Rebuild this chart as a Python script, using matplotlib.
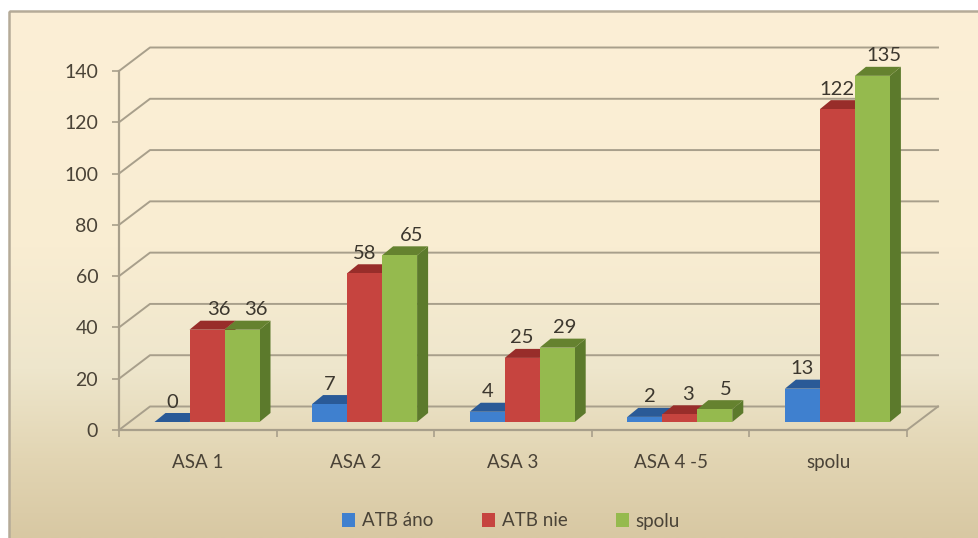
import numpy as np
import matplotlib
matplotlib.use("Agg")
import matplotlib.pyplot as plt
from matplotlib.patches import Polygon, Patch, Rectangle
from matplotlib.colors import LinearSegmentedColormap

categories = ["ASA 1", "ASA 2", "ASA 3", "ASA 4 -5", "spolu"]
atb_ano = [0, 7, 4, 2, 13]
atb_nie = [36, 58, 25, 3, 122]
spolu = [36, 65, 29, 5, 135]
series_names = ["ATB áno", "ATB nie", "spolu"]
y_ticks = [0, 20, 40, 60, 80, 100, 120, 140]

W, H = 979, 538
plt.rcParams["font.family"] = ["Lato", "DejaVu Sans"]
TXT = "#4a4337"
GRID = "#a89f8b"

fig = plt.figure(figsize=(W / 100, H / 100), dpi=100, facecolor="white")

# panel background with vertical gradient
bg = fig.add_axes([0, 0, 1, 1], zorder=0)
bg.set_xlim(0, W); bg.set_ylim(H, 0); bg.axis("off")
cmap = LinearSegmentedColormap.from_list(
    "panel", [(0, "#fcefd6"), (0.45, "#f9edd2"), (0.68, "#eee6cc"), (0.85, "#e2d5b3"), (1, "#d8c8a3")])
bg.imshow(np.linspace(0, 1, 256)[:, None], cmap=cmap, aspect="auto",
          extent=[10, W, H, 11], zorder=1)
bg.add_patch(Rectangle((9, 11), W, H, fill=False, ec="#b5ab98", lw=1.8, zorder=2))
bg.set_xlim(0, W); bg.set_ylim(H, 0)

# plot axes: front plane of the 3-D box
ax = fig.add_axes([119 / W, (H - 430) / H, 788 / W, 359 / H], zorder=1)
ax.patch.set_alpha(0)
ax.set_xlim(0, len(categories)); ax.set_ylim(0, 140)
px_x = len(categories) / 788
px_y = 140 / 359

box_dx, box_dy = 31 * px_x, 23.5 * px_y
for v in y_ticks:
    ax.plot([0, box_dx, len(categories) + box_dx], [v, v + box_dy, v + box_dy],
            color=GRID, lw=1.4, clip_on=False, zorder=1)
ax.plot([len(categories), len(categories) + box_dx], [0, box_dy],
        color=GRID, lw=1.4, clip_on=False, zorder=1)

for s in ("top", "right"):
    ax.spines[s].set_visible(False)
for s in ("left", "bottom"):
    ax.spines[s].set_color(GRID); ax.spines[s].set_linewidth(1.6)
ax.set_yticks(y_ticks)
ax.tick_params(axis="y", length=5, width=1.2, color=GRID, labelsize=14, labelcolor=TXT, pad=10)
ax.set_xticks(np.arange(len(categories)) + 0.5, categories)
ax.set_xticks(np.arange(len(categories) + 1), minor=True)
ax.tick_params(axis="x", which="major", length=0, labelsize=13.5, labelcolor=TXT, pad=17)
ax.tick_params(axis="x", which="minor", length=5, width=1.2, color=GRID)

# bars
series = [atb_ano, atb_nie, spolu]
front = ["#3f80cf", "#c6443f", "#95ba4e"]
top = ["#2a5a97", "#982d2a", "#65822f"]
side = ["#2c5f9f", "#8f2a27", "#5c7a2c"]
bar_w = 35 * px_x
start = 35.5 * px_x
base = 8 * px_y
dx, dy = 11 * px_x, 9 * px_y

for k, cat in enumerate(categories):
    for i, vals in enumerate(series):
        x0 = k + start + i * bar_w
        x1 = x0 + bar_w
        yt = base + vals[k]
        ax.add_patch(Polygon([(x1, base), (x1 + dx, base + dy), (x1 + dx, yt + dy), (x1, yt)],
                             fc=side[i], ec="none", clip_on=False, zorder=3 + i))
        ax.add_patch(Polygon([(x0, yt), (x1, yt), (x1 + dx, yt + dy), (x0 + dx, yt + dy)],
                             fc=top[i], ec="none", clip_on=False, zorder=3 + i))
        ax.add_patch(Rectangle((x0, base), bar_w, vals[k], fc=front[i], ec="none",
                               clip_on=False, zorder=3 + i))

# value labels: sideways nudge (pixels) so neighbouring labels stay apart
nudges = {(0, 1): 12, (0, 2): 14, (1, 2): 12, (2, 2): 7, (3, 0): 5, (3, 1): 8, (3, 2): 11, (4, 2): 12}
for k in range(len(categories)):
    for i, vals in enumerate(series):
        xc = k + start + (i + 0.5) * bar_w
        ax.annotate(str(vals[k]), (xc, base + vals[k]),
                    xytext=(nudges.get((k, i), 0) * 0.72, 20 * 0.72), textcoords="offset points",
                    ha="center", va="center", fontsize=14.5, color="#3c372e", zorder=10,
                    annotation_clip=False)

# legend
handles = [Patch(fc=c, ec="none") for c in front]
fig.legend(handles, series_names, loc="center", bbox_to_anchor=(511 / W, (H - 521) / H),
           ncols=3, frameon=False, fontsize=13.5, labelcolor=TXT, handlelength=0.7, handleheight=0.7,
           handletextpad=0.35, columnspacing=2.6, borderpad=0)

fig.savefig("out.png", dpi=100)
